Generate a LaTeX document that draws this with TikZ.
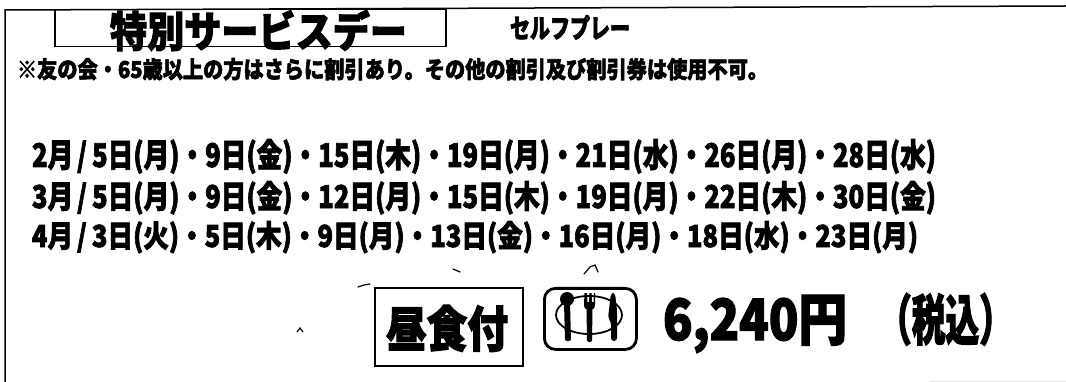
\documentclass[tikz,border=0pt]{standalone}
\usepackage{graphicx}
\usepackage{fontspec}
\setmainfont{Noto Sans CJK JP}
\newfontfamily\jpheavy{Noto Sans CJK JP}[UprightFont=* Black,FakeBold=2.5]
\newcommand{\fitbox}[3]{\resizebox{#1pt}{#2pt}{\jpheavy #3}}
\newcommand{\sep}{\hspace{0.15em}/\hspace{0.2em}}
\tikzset{
  x=1pt,y=-1pt,
  ink/.style={draw=black,line width=1.5pt},
  txt/.style={anchor=north west,inner sep=0pt,outer sep=0pt,text=black},
  tick/.style={draw=black,line width=1.2pt,line cap=round},
}
\begin{document}
\begin{tikzpicture}
\useasboundingbox[fill=white] (0,0) rectangle (1066,382);
\fill[black!10] (930,381) rectangle (1066,382);
\coordinate (tl) at (5,10);
\coordinate (tr) at (1066,6);
\coordinate (bl) at (5,382);
\draw[ink] (bl) -- (tl) -- (tr);
\node[ink,minimum width=391pt,minimum height=37pt,inner sep=0pt,anchor=north west] (titlebox) at (54,9) {};
\node[txt] (title) at (110,10) {\fitbox{297}{37}{特別サービスデー}};
\node[txt] (self) at (510,15) {\fitbox{120}{23}{セルフプレー}};
\node[txt] (note) at (17,58) {\fitbox{751}{20}{※友の会・65歳以上の方はさらに割引あり。その他の割引及び割引券は使用不可。}};
\node[txt] (row1) at (32,139) {\fitbox{904}{28}{2月\sep 5日(月)・9日(金)・15日(木)・19日(月)・21日(水)・26日(月)・28日(水)}};
\node[txt] (row2) at (32,181) {\fitbox{904}{27}{3月\sep 5日(月)・9日(金)・12日(月)・15日(木)・19日(月)・22日(木)・30日(金)}};
\node[txt] (row3) at (32,221) {\fitbox{886}{26}{4月\sep 3日(火)・5日(木)・9日(月)・13日(金)・16日(月)・18日(水)・23日(月)}};
\node[ink,minimum width=148pt,minimum height=78pt,inner sep=0pt,anchor=north west] (lunchbox) at (374,287) {};
\node[txt] (lunch) at (386,305) {\fitbox{122}{42}{昼食付}};
\node[draw=black,line width=2.8pt,rounded corners=11pt,minimum width=92pt,minimum height=61pt,inner sep=0pt,anchor=north west] (icon) at (543,287) {};
\draw[black,line width=1.8pt] (589,315) ellipse (33pt and 19pt);
% spoon
\fill[black] (567,299) ellipse (7pt and 7pt);
\fill[black,rounded corners=2pt] (564,302) -- (570,302) -- (571,341) -- (565,341) -- cycle;
% fork
\fill[black] (584,305) .. controls (584,312) and (595,312) .. (595,305) -- (595,293) -- (594,293) -- (593.5,302) -- (592,302) -- (591.5,293) -- (589.5,293) -- (589,302) -- (587.5,302) -- (587,293) -- (584.5,293) -- cycle;
\fill[black,rounded corners=2pt] (586.5,308) -- (592.5,308) -- (592,342) -- (587,342) -- cycle;
% knife
\fill[black,rounded corners=3pt] (611,293) -- (615,293) -- (617,310) -- (617,341) -- (611,341) -- (611,322) -- (608,318) -- cycle;
\node[txt] (price) at (663,295) {\fitbox{184}{45}{6,240円}};
\node[txt] (tax) at (878,293) {\fitbox{135}{47}{（税込）}};
\draw[tick] (358,287) -- (364,285) -- (370,284);
\draw[tick] (453,269) -- (460,272);
\draw[tick] (584,274) -- (590,267) -- (595,265) -- (598,272);
\draw[tick] (297,332) -- (300,328) -- (303,332);
\end{tikzpicture}
\end{document}
